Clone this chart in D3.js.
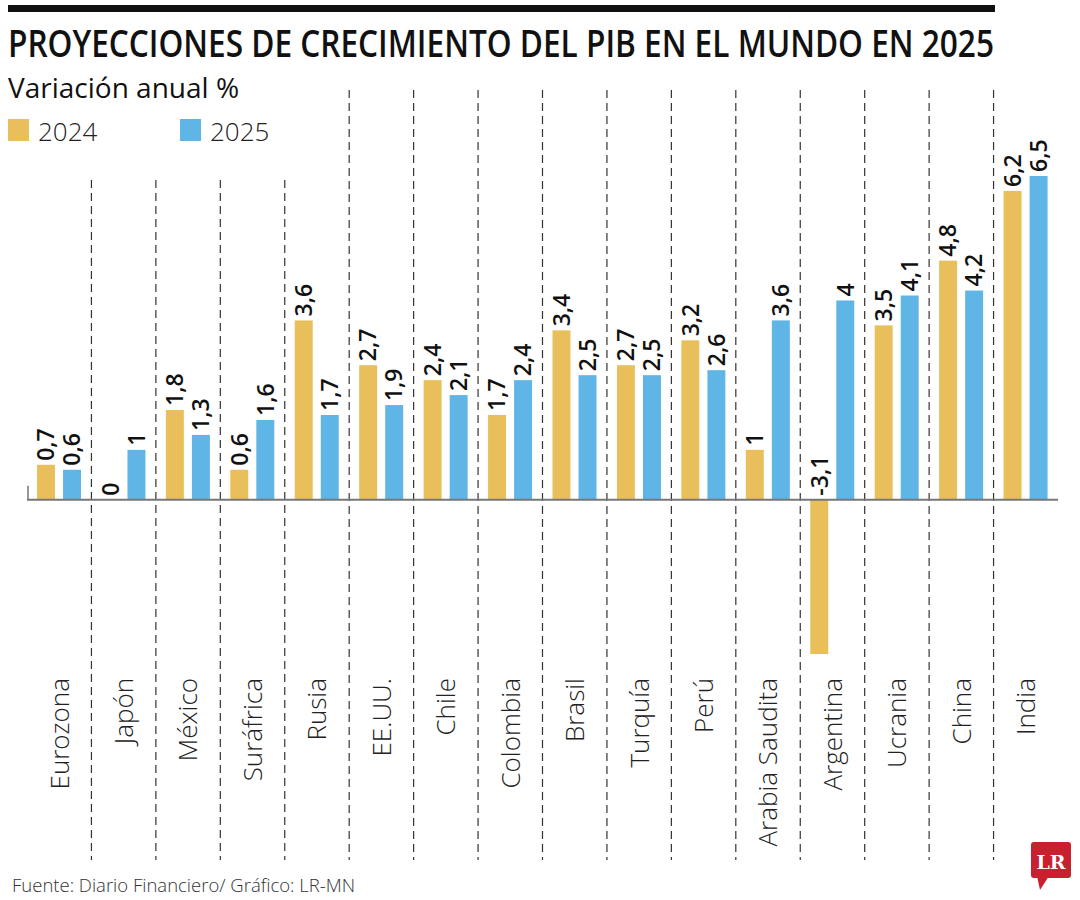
<!DOCTYPE html>
<html>
<head>
<meta charset="utf-8">
<script src="https://cdn.jsdelivr.net/npm/d3@7"></script>
<style>
  body { margin: 0; background: #fff; }
  svg { display: block; font-family: "Open Sans", sans-serif; }
</style>
</head>
<body>
<div id="chart"></div>
<script>
// data
const countries = ["Eurozona","Japón","México","Suráfrica","Rusia","EE.UU.","Chile","Colombia","Brasil","Turquía","Perú","Arabia Saudita","Argentina","Ucrania","China","India"];
const series = ["2024","2025"];
const values2024 = [0.7, 0, 1.8, 0.6, 3.6, 2.7, 2.4, 1.7, 3.4, 2.7, 3.2, 1, -3.1, 3.5, 4.8, 6.2];
const values2025 = [0.6, 1, 1.3, 1.6, 1.7, 1.9, 2.1, 2.4, 2.5, 2.5, 2.6, 3.6, 4, 4.1, 4.2, 6.5];

const colors = {"2024": "#E9BF5B", "2025": "#5FB6E6"};
const W = 1080, H = 900;

const svg = d3.select("#chart").append("svg")
    .attr("width", W)
    .attr("height", H);

const rows = countries.map((c, i) => ({country: c, "2024": values2024[i], "2025": values2025[i]}));

const xScale = d3.scaleBand().domain(countries).range([27, 1058]);
const xInner = d3.scaleBand().domain(series).range([10, 54]).paddingInner(0.31);
const yScale = d3.scaleLinear().domain([-3.1, 6.5]).range([654, 176]);
const fmt = v => String(v).replace(".", ",");

// top rule + titles
svg.append("rect").attr("x", 8).attr("y", 5).attr("width", 987).attr("height", 7).attr("fill", "#111");
svg.append("text")
    .attr("transform", "translate(8,57) scale(1,1.12)")
    .attr("font-size", 34).attr("font-weight", 600)
    .attr("textLength", 986).attr("lengthAdjust", "spacingAndGlyphs")
    .attr("fill", "#111")
    .text("PROYECCIONES DE CRECIMIENTO DEL PIB EN EL MUNDO EN 2025");
svg.append("text")
    .attr("x", 8).attr("y", 98)
    .attr("font-size", 28)
    .attr("fill", "#111")
    .text("Variación anual %");

// legend
const legend = svg.append("g").attr("class", "legend");
series.forEach((s, i) => {
    const lx = 8 + i * 172;
    legend.append("rect").attr("x", lx).attr("y", 119).attr("width", 21).attr("height", 22).attr("fill", colors[s]);
    legend.append("text").attr("x", lx + 30).attr("y", 141)
        .attr("font-size", 26).attr("font-weight", 300).attr("fill", "#222")
        .text(s);
});

// dashed separators
const bounds = countries.slice(1).map(c => xScale(c));
svg.selectAll(".sep")
    .data(bounds)
    .join("line")
    .attr("class", "sep")
    .attr("x1", d => d).attr("x2", d => d)
    .attr("y1", d => d < 300 ? 180 : 90)
    .attr("y2", 860)
    .attr("stroke", "#333")
    .attr("stroke-width", 1.2)
    .attr("stroke-dasharray", "8,5");

// bars
const catG = svg.selectAll(".catG")
    .data(rows)
    .join("g")
    .attr("class", "catG")
    .attr("transform", d => "translate(" + xScale(d.country) + ",0)");

const y0 = yScale(0);
catG.selectAll(".bar")
    .data(d => series.map(s => ({key: s, value: d[s]})))
    .join("rect")
    .attr("class", "bar")
    .attr("x", d => xInner(d.key))
    .attr("width", xInner.bandwidth())
    .attr("y", d => Math.min(yScale(d.value), y0))
    .attr("height", d => Math.abs(yScale(d.value) - y0))
    .attr("fill", d => colors[d.key]);

// value labels
catG.selectAll(".valLabel")
    .data(d => series.map(s => ({key: s, value: d[s]})))
    .join("text")
    .attr("class", "valLabel")
    .attr("transform", d => {
        const cx = xInner(d.key) + xInner.bandwidth() / 2;
        const top = d.value > 0 ? yScale(d.value) : y0;
        return "translate(" + cx + "," + (top - 4) + ") rotate(-90)";
    })
    .attr("dy", "0.36em")
    .attr("font-size", 23)
    .attr("font-weight", 600)
    .attr("fill", "#111")
    .text(d => fmt(d.value));

// baseline axis
svg.append("line")
    .attr("x1", 27).attr("x2", 1058)
    .attr("y1", y0).attr("y2", y0)
    .attr("stroke", "#777").attr("stroke-width", 2);
svg.append("line")
    .attr("x1", 28).attr("x2", 28)
    .attr("y1", y0 - 14).attr("y2", y0)
    .attr("stroke", "#777").attr("stroke-width", 1.5);

// category labels
catG.append("text")
    .attr("transform", "translate(" + (xScale.bandwidth() / 2) + ",678) rotate(-90)")
    .attr("text-anchor", "end")
    .attr("dy", "0.36em")
    .attr("font-size", 26)
    .attr("font-weight", 300)
    .attr("fill", "#222")
    .text(d => d.country);

// footer
svg.append("text")
    .attr("x", 12).attr("y", 892)
    .attr("font-size", 18.5).attr("font-weight", 300)
    .attr("fill", "#333")
    .text("Fuente: Diario Financiero/ Gráfico: LR-MN");

// LR logo
const logo = svg.append("g").attr("class", "logo");
logo.append("rect").attr("x", 1031).attr("y", 842).attr("width", 40).attr("height", 36).attr("rx", 3).attr("fill", "#C8202F");
logo.append("path").attr("d", "M1037,876 L1049,876 L1040,890 Z").attr("fill", "#C8202F");
logo.append("text").attr("x", 1051).attr("y", 869)
    .attr("text-anchor", "middle")
    .attr("font-family", "'DejaVu Serif', serif")
    .attr("font-weight", 700).attr("font-size", 19)
    .attr("fill", "#fff")
    .text("LR");
</script>
</body>
</html>
